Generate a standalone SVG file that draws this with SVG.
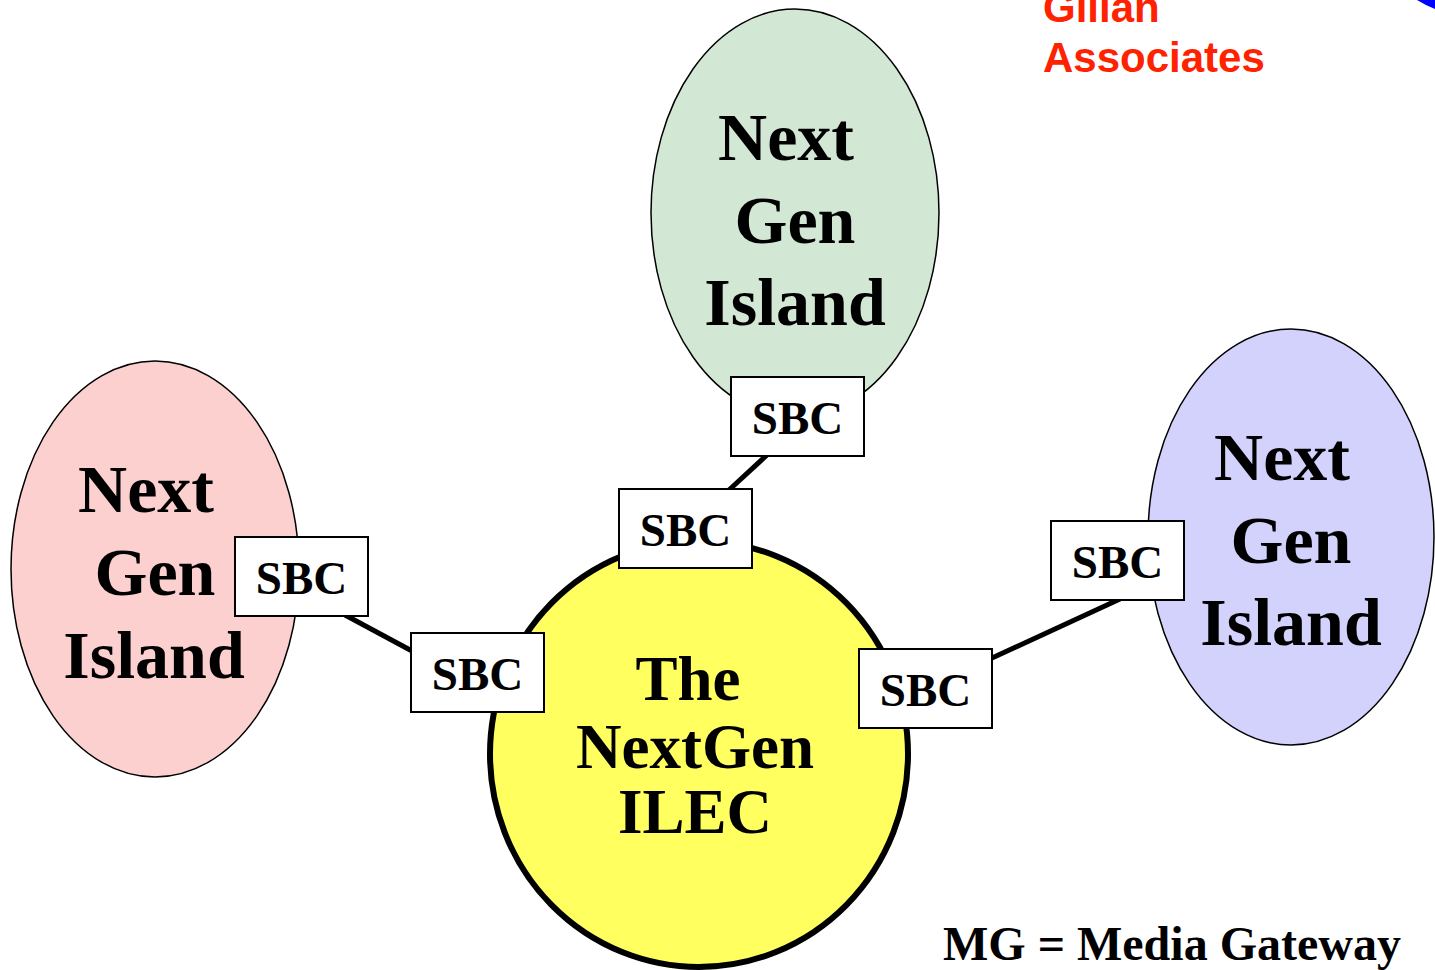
<svg xmlns="http://www.w3.org/2000/svg" width="1435" height="970" viewBox="0 0 1435 970">
<style>
.isl{stroke:#000;stroke-width:1.5}
.big{font-family:"Liberation Serif",serif;font-weight:bold;font-size:68px;text-anchor:middle;fill:#000}
.ilec{font-family:"Liberation Serif",serif;font-weight:bold;font-size:63px;text-anchor:middle;fill:#000}
.sbc rect{fill:#fff;stroke:#000;stroke-width:2}
.sbc text{font-family:"Liberation Serif",serif;font-weight:bold;font-size:47px;text-anchor:middle;fill:#000}
.conn line{stroke:#000;stroke-width:5}
</style>
<rect width="1435" height="970" fill="#fff"/>
<path d="M1417,0 L1435,0 L1435,9 Q1425,5 1417,0 Z" fill="#0000ff"/>
<g id="gillan" font-family="Liberation Sans,Arial,sans-serif" font-weight="bold" font-size="42" fill="#ff2200">
<text x="1043" y="22">Gillan</text>
<text x="1043" y="72">Associates</text>
</g>
<g class="conn" id="connectors">
<line x1="767" y1="455" x2="729" y2="490"/>
<line x1="345" y1="615" x2="412" y2="651"/>
<line x1="992" y1="658" x2="1120" y2="599"/>
</g>
<g id="ilec">
<ellipse cx="699" cy="754" rx="209" ry="213" fill="#ffff60" stroke="#000" stroke-width="6"/>
<text class="ilec" x="688" y="700">The</text>
<text class="ilec" x="695" y="768">NextGen</text>
<text class="ilec" x="695" y="833">ILEC</text>
</g>
<g id="island-top">
<ellipse class="isl" cx="795" cy="213" rx="144" ry="204" fill="#d2e8d4"/>
<text class="big" x="786" y="160">Next</text>
<text class="big" x="795" y="243">Gen</text>
<text class="big" x="795" y="325">Island</text>
</g>
<g id="island-left">
<ellipse class="isl" cx="155" cy="569" rx="144" ry="208" fill="#fdd0d0"/>
<text class="big" x="146" y="512">Next</text>
<text class="big" x="155" y="595">Gen</text>
<text class="big" x="154" y="678">Island</text>
</g>
<g id="island-right">
<ellipse class="isl" cx="1291" cy="537" rx="143" ry="208" fill="#d2d2fc"/>
<text class="big" x="1282" y="480">Next</text>
<text class="big" x="1291" y="563">Gen</text>
<text class="big" x="1291" y="645">Island</text>
</g>
<g id="sbc-top" class="sbc"><rect x="731" y="377" width="133" height="79"/><text x="797.5" y="434">SBC</text></g>
<g id="sbc-ilec-top" class="sbc"><rect x="619" y="489" width="133" height="79"/><text x="685.5" y="546">SBC</text></g>
<g id="sbc-left" class="sbc"><rect x="235" y="537" width="133" height="79"/><text x="301.5" y="594">SBC</text></g>
<g id="sbc-ilec-left" class="sbc"><rect x="411" y="633" width="133" height="79"/><text x="477.5" y="690">SBC</text></g>
<g id="sbc-ilec-right" class="sbc"><rect x="859" y="649" width="133" height="79"/><text x="925.5" y="706">SBC</text></g>
<g id="sbc-right" class="sbc"><rect x="1051" y="521" width="133" height="79"/><text x="1117.5" y="578">SBC</text></g>
<text id="legend" x="943" y="960" font-family="Liberation Serif,serif" font-weight="bold" font-size="48" fill="#000">MG = Media Gateway</text>
</svg>
